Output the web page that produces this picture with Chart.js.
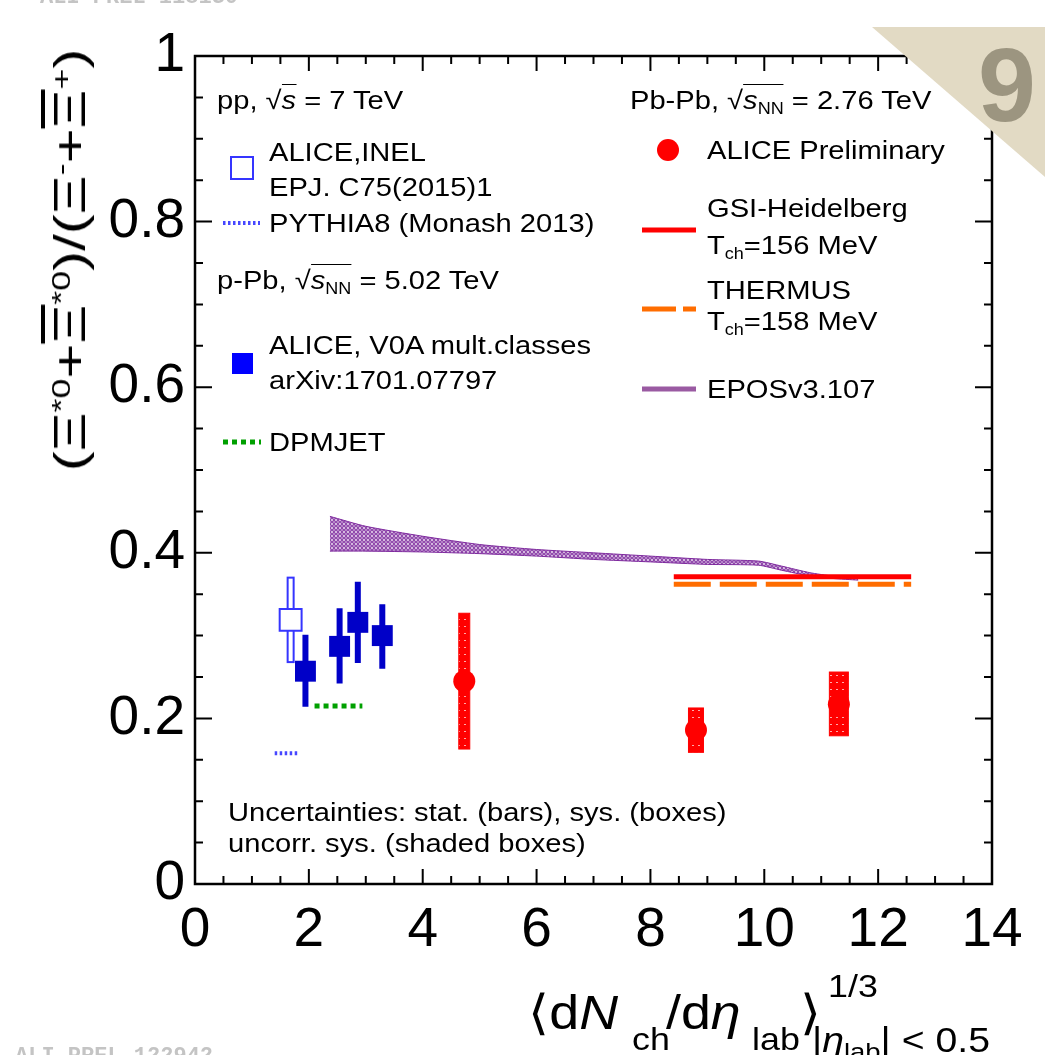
<!DOCTYPE html>
<html>
<head>
<meta charset="utf-8">
<script src="https://cdn.jsdelivr.net/npm/chart.js@4.4.1/dist/chart.umd.min.js"></script>
<style>
  body { margin: 0; background: #fff; }
  #wrap { position: relative; width: 1045px; height: 1055px; overflow: hidden; background: #fff; }
  #c { position: absolute; left: 0; top: 0; }
  .t { position: absolute; line-height: 1; white-space: nowrap; color: #000;
       font-family: 'Liberation Sans', Arial, Helvetica, sans-serif;
       transform: scaleX(1.12); transform-origin: left center; }
  .sub { font-size: 0.62em; position: relative; top: 0.32em; }
  .sup { font-size: 0.6em; position: relative; top: -0.55em; }
  .rt { border-top: 1.5px solid #000; }
  .ov { text-decoration: overline; }
  .wm { position: absolute; font-family: 'Liberation Mono', monospace; font-weight: bold;
        font-size: 22px; color: #c4c4c4; line-height: 1; white-space: nowrap; }
  #ytitle { position: absolute; left: 70px; top: 260px; font-size: 44px; line-height: 1;
            font-family: 'Liberation Sans', Arial, sans-serif; white-space: nowrap;
            transform: translate(-50%, -50%) rotate(-90deg) scaleX(1.36); }
  #corner { position: absolute; left: 872px; top: 27px; width: 173px; height: 150px;
            background: #e2dac4; clip-path: polygon(0 0, 100% 0, 100% 100%);
            filter: drop-shadow(0 0 2px #999); }
  #nine { position: absolute; left: 978px; top: 33px; font: bold 104px 'Liberation Sans', Arial, sans-serif;
          color: #9c9580; line-height: 1; }
</style>
</head>
<body>
<div id="wrap">
  <canvas id="c" width="1045" height="1055"></canvas>
  <div class="wm" style="left:40px; top:-13px;">ALI-PREL-118130</div>
  <div class="wm" style="left:15px; top:1046px;">ALI-PREL-122942</div>
  <div id="ytitle">(Ξ<span class="sup">*0</span>+<span class="ov">Ξ</span><span class="sup">*0</span>)/(Ξ<span class="sup">-</span>+<span class="ov">Ξ</span><span class="sup">+</span>)</div>
  <div id="corner"></div>
  <div id="nine">9</div>
</div>
<script>
// ---- Data ----
// pp 7 TeV, ALICE INEL
const ppX = [1.68];
const ppY = [0.319];
const ppSysLo = [0.268];
const ppSysHi = [0.370];

// p-Pb 5.02 TeV, V0A mult. classes
const pPbX = [1.94, 2.54, 2.86, 3.29];
const pPbY = [0.257, 0.287, 0.316, 0.300];
const pPbLo = [0.214, 0.242, 0.267, 0.260];
const pPbHi = [0.301, 0.333, 0.365, 0.338];

// Pb-Pb 2.76 TeV, ALICE Preliminary
const pbX = [4.73, 8.80, 11.31];
const pbY = [0.245, 0.186, 0.217];
const pbSysLo = [0.163, 0.159, 0.179];
const pbSysHi = [0.327, 0.2126, 0.256];

// Models
const pythiaX = [1.40, 1.80];
const pythiaY = [0.158, 0.158];
const dpmjetX = [2.10, 2.94];
const dpmjetY = [0.215, 0.215];
const gsiX = [8.41, 12.58];
const gsiY = [0.371, 0.371];
const thermusX = [8.41, 12.58];
const thermusY = [0.362, 0.362];
const eposX  = [2.37, 3, 4, 5, 6, 7, 8, 9, 9.9, 10.3, 10.8, 11.2, 11.65];
const eposHi = [0.444, 0.432, 0.420, 0.410, 0.404, 0.400, 0.396, 0.392, 0.390, 0.384, 0.376, 0.372, 0.371];
const eposLo = [0.402, 0.402, 0.401, 0.399, 0.396, 0.392, 0.389, 0.386, 0.385, 0.379, 0.372, 0.369, 0.367];

// Axis ticks
const xTicks = [0, 2, 4, 6, 8, 10, 12, 14];
const yTicks = [0, 0.2, 0.4, 0.6, 0.8, 1];

// ---- Styles ----
const C = {
    pp: '#3535ff',
    pPb: '#0000c8',
    pPbLeg: '#0000ff',
    pythia: '#4646ff',
    dpmjet: '#00a000',
    red: '#ff0000',
    orange: '#ff6d00',
    epos: '#7e2a9e',
    eposLeg: '#9a5aa2'
};
const ppBoxW = 6;               // px
const pbBoxW = [11, 15, 19];    // px

const pts = (xs, ys) => xs.map((x, i) => ({ x: x, y: ys[i] }));

// Patterns
function makePattern(w, h, draw) {
    const c = document.createElement('canvas');
    c.width = w; c.height = h;
    draw(c.getContext('2d'));
    return document.getElementById('c').getContext('2d').createPattern(c, 'repeat');
}
const eposPattern = makePattern(4, 4, g => {
    g.strokeStyle = C.epos;
    g.lineWidth = 1.2;
    g.beginPath();
    g.arc(2, 2, 1.4, 0, Math.PI * 2);
    g.stroke();
});
const redPattern = makePattern(6, 7, g => {
    g.fillStyle = C.red;
    g.fillRect(0, 0, 6, 7);
    g.fillStyle = 'rgba(255,200,200,0.85)';
    g.fillRect(2, 3, 2, 1);
});

// ---- Text overlays ----
const wrap = document.getElementById('wrap');
function addText(html, x, cy, size) {
    const d = document.createElement('div');
    d.className = 't';
    d.style.left = x + 'px';
    d.style.top = (cy - 0.49 * size) + 'px';
    d.style.fontSize = size + 'px';
    d.innerHTML = html;
    wrap.appendChild(d);
}
function addTextB(html, x, base, size) {
    const d = document.createElement('div');
    d.className = 't';
    d.style.left = x + 'px';
    d.style.top = (base - 0.8465 * size) + 'px';
    d.style.fontSize = size + 'px';
    d.innerHTML = html;
    wrap.appendChild(d);
}

const fs = 26;
addText('pp, √<span class="rt"><i>s</i></span> = 7 TeV', 217, 100, fs);
addText('ALICE,INEL', 269, 152, fs);
addText('EPJ. C75(2015)1', 269, 187, fs);
addText('PYTHIA8 (Monash 2013)', 269, 223, fs);
addText('p-Pb, √<span class="rt"><i>s</i><span class="sub">NN</span></span> = 5.02 TeV', 217, 280, fs);
addText('ALICE, V0A mult.classes', 269, 345, fs);
addText('arXiv:1701.07797', 269, 380, fs);
addText('DPMJET', 269, 442, fs);

addText('Pb-Pb, √<span class="rt"><i>s</i><span class="sub">NN</span></span> = 2.76 TeV', 630, 100, fs);
addText('ALICE Preliminary', 707, 150, fs);
addText('GSI-Heidelberg', 707, 208, fs);
addText('T<span class="sub">ch</span>=156 MeV', 707, 245, fs);
addText('THERMUS', 707, 290, fs);
addText('T<span class="sub">ch</span>=158 MeV', 707, 321, fs);
addText('EPOSv3.107', 707, 389, fs);

addText('Uncertainties: stat. (bars), sys. (boxes)', 228, 812, fs);
addText('uncorr. sys. (shaded boxes)', 228, 843, fs);

// x axis title
addTextB('⟨d<i>N</i>', 528, 1030, 48);
addTextB('ch', 632, 1050, 32);
addTextB('/d<i>η</i>', 666, 1030, 48);
addTextB('lab', 752, 1050, 32);
addTextB('⟩', 800, 1030, 48);
addTextB('1/3', 828, 997, 32);
addTextB('|<i>η</i><span class="sub" style="font-size:0.7em">lab</span>| &lt; 0.5', 812, 1052, 35);

// ---- Plugins ----
const errorBoxes = {
    id: 'errorBoxes',
    beforeDatasetsDraw(chart) {
        const { ctx, scales: { x, y } } = chart;
        ctx.save();
        // pp sys box (open)
        ctx.strokeStyle = C.pp;
        ctx.lineWidth = 2;
        ppX.forEach((v, i) => {
            const px = x.getPixelForValue(v);
            const top = y.getPixelForValue(ppSysHi[i]);
            const bot = y.getPixelForValue(ppSysLo[i]);
            ctx.strokeRect(px - ppBoxW / 2, top, ppBoxW, bot - top);
        });
        // p-Pb stat bars
        ctx.strokeStyle = C.pPb;
        ctx.lineWidth = 6;
        ctx.beginPath();
        pPbX.forEach((v, i) => {
            const px = x.getPixelForValue(v);
            ctx.moveTo(px, y.getPixelForValue(pPbHi[i]));
            ctx.lineTo(px, y.getPixelForValue(pPbLo[i]));
        });
        ctx.stroke();
        // Pb-Pb shaded sys boxes
        pbX.forEach((v, i) => {
            const px = x.getPixelForValue(v);
            const top = y.getPixelForValue(pbSysHi[i]);
            const bot = y.getPixelForValue(pbSysLo[i]);
            ctx.fillStyle = redPattern;
            ctx.fillRect(px - pbBoxW[i] / 2, top, pbBoxW[i], bot - top);
            ctx.strokeStyle = C.red;
            ctx.lineWidth = 1;
            ctx.strokeRect(px - pbBoxW[i] / 2, top, pbBoxW[i], bot - top);
        });
        ctx.restore();
    }
};

const frameTicks = {
    id: 'frameTicks',
    afterDatasetsDraw(chart) {
        const { ctx, chartArea: a, scales: { x, y } } = chart;
        ctx.save();
        ctx.strokeStyle = '#000';
        ctx.lineWidth = 2.5;
        ctx.strokeRect(a.left, a.top, a.right - a.left, a.bottom - a.top);
        ctx.lineWidth = 2;
        ctx.beginPath();
        for (let k = 0; k <= 28; k++) {
            const px = x.getPixelForValue(k * 0.5);
            const len = k % 4 === 0 ? 15 : 8;
            ctx.moveTo(px, a.bottom); ctx.lineTo(px, a.bottom - len);
            ctx.moveTo(px, a.top); ctx.lineTo(px, a.top + len);
        }
        for (let k = 0; k <= 20; k++) {
            const py = y.getPixelForValue(k * 0.05);
            const len = k % 4 === 0 ? 17 : 8;
            ctx.moveTo(a.left, py); ctx.lineTo(a.left + len, py);
            ctx.moveTo(a.right, py); ctx.lineTo(a.right - len, py);
        }
        ctx.stroke();
        ctx.restore();
    }
};

const legendMarks = {
    id: 'legendMarks',
    afterDraw(chart) {
        const ctx = chart.ctx;
        ctx.save();
        // ALICE INEL open square
        ctx.fillStyle = '#fff';
        ctx.strokeStyle = C.pp;
        ctx.lineWidth = 2;
        ctx.fillRect(231, 157, 22, 22);
        ctx.strokeRect(231, 157, 22, 22);
        // p-Pb filled square
        ctx.fillStyle = C.pPbLeg;
        ctx.fillRect(232, 353, 21, 21);
        // lines
        const seg = (x0, x1, yy, col, w, dash) => {
            ctx.beginPath();
            ctx.strokeStyle = col;
            ctx.lineWidth = w;
            ctx.setLineDash(dash || []);
            ctx.moveTo(x0, yy); ctx.lineTo(x1, yy);
            ctx.stroke();
        };
        seg(223, 260, 223, C.pythia, 4, [2.5, 2.5]);
        seg(223, 261, 442, C.dpmjet, 5, [5, 4]);
        seg(642, 696, 230, C.red, 5);
        seg(642, 696, 309, C.orange, 5, [34, 7]);
        seg(642, 696, 389, C.eposLeg, 5);
        ctx.setLineDash([]);
        // red circle
        ctx.fillStyle = C.red;
        ctx.beginPath();
        ctx.arc(668, 150, 11, 0, Math.PI * 2);
        ctx.fill();
        ctx.restore();
    }
};

// ---- Chart ----
new Chart(document.getElementById('c'), {
    type: 'scatter',
    data: {
        datasets: [
            { label: 'ALICE Preliminary Pb-Pb', data: pts(pbX, pbY), pointStyle: 'circle',
              pointRadius: 11, backgroundColor: C.red, borderColor: C.red, borderWidth: 0 },
            { label: 'ALICE V0A mult.classes p-Pb', data: pts(pPbX, pPbY), pointStyle: 'rect',
              pointRadius: 14.8, backgroundColor: C.pPb, borderColor: C.pPb, borderWidth: 0 },
            { label: 'ALICE INEL pp', data: pts(ppX, ppY), pointStyle: 'rect',
              pointRadius: 15.5, backgroundColor: '#fff', borderColor: C.pp, borderWidth: 2 },
            { label: 'PYTHIA8', data: pts(pythiaX, pythiaY), showLine: true, pointRadius: 0,
              borderColor: C.pythia, borderWidth: 4, borderDash: [2.5, 2.5] },
            { label: 'DPMJET', data: pts(dpmjetX, dpmjetY), showLine: true, pointRadius: 0,
              borderColor: C.dpmjet, borderWidth: 5, borderDash: [5, 4] },
            { label: 'GSI-Heidelberg', data: pts(gsiX, gsiY), showLine: true, pointRadius: 0,
              borderColor: C.red, borderWidth: 5 },
            { label: 'THERMUS', data: pts(thermusX, thermusY), showLine: true, pointRadius: 0,
              borderColor: C.orange, borderWidth: 5, borderDash: [37, 9] },
            { label: 'EPOS hi', data: pts(eposX, eposHi), showLine: true, pointRadius: 0,
              borderColor: C.epos, borderWidth: 1, fill: '+1', backgroundColor: eposPattern, tension: 0.2 },
            { label: 'EPOS lo', data: pts(eposX, eposLo), showLine: true, pointRadius: 0,
              borderColor: C.epos, borderWidth: 1, tension: 0.2 }
        ]
    },
    options: {
        responsive: false,
        animation: false,
        layout: { padding: { top: 56, right: 53, left: 0, bottom: 0 } },
        plugins: { legend: { display: false }, tooltip: { enabled: false } },
        scales: {
            x: {
                type: 'linear', min: 0, max: 14,
                afterBuildTicks: s => { s.ticks = xTicks.map(v => ({ value: v })); },
                afterFit: s => { s.height = 171; },
                grid: { display: false },
                border: { display: false },
                ticks: { color: '#000', padding: 6, maxRotation: 0,
                         font: { family: "'Liberation Sans', Arial, sans-serif", size: 55 } }
            },
            y: {
                type: 'linear', min: 0, max: 1,
                afterBuildTicks: s => { s.ticks = yTicks.map(v => ({ value: v })); },
                afterFit: s => { s.width = 195; },
                grid: { display: false },
                border: { display: false },
                ticks: { color: '#000', padding: 2,
                         callback: v => (v === 0 || v === 1) ? String(v) : v.toFixed(1),
                         font: { family: "'Liberation Sans', Arial, sans-serif", size: 55 } }
            }
        }
    },
    plugins: [errorBoxes, frameTicks, legendMarks]
});
</script>
</body>
</html>
